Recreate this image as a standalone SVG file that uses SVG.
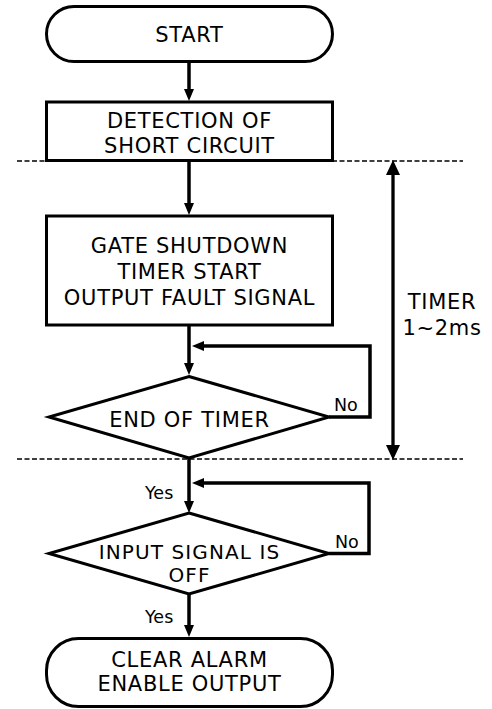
<svg xmlns="http://www.w3.org/2000/svg" width="492" height="709" viewBox="0 0 492 709">
<style>
.shape{fill:#fff;stroke:#000;stroke-width:3;}
.t{font-family:"DejaVu Sans",Verdana,sans-serif;font-size:21px;letter-spacing:0.7px;fill:#000;text-anchor:middle;}
.d{font-size:20px;letter-spacing:1.1px;}
.s{font-family:"DejaVu Sans",Verdana,sans-serif;font-size:17.5px;fill:#000;}
.ln{fill:none;stroke:#000;stroke-width:3.5;}
.tm{fill:none;stroke:#000;stroke-width:3.3;}
.dash{fill:none;stroke:#000;stroke-width:1.5;stroke-dasharray:5 2.5;}
</style>
<defs>
<marker id="ah" markerUnits="userSpaceOnUse" viewBox="0 0 12 10" refX="6" refY="5" markerWidth="12" markerHeight="10" orient="auto">
<path d="M0,0 L12,5 L0,10 z" fill="#000"/>
</marker>
<marker id="ahl" markerUnits="userSpaceOnUse" viewBox="0 0 15 14" refX="7" refY="7" markerWidth="15" markerHeight="14" orient="auto-start-reverse">
<path d="M0,0 L15,7 L0,14 z" fill="#000"/>
</marker>
</defs>
<g id="guides">
<line class="dash" x1="17" y1="161" x2="463" y2="161"/>
<line class="dash" x1="17" y1="459" x2="463" y2="459"/>
</g>
<g id="connectors">
<line class="ln" x1="189" y1="62" x2="189" y2="95" marker-end="url(#ah)"/>
<line class="ln" x1="189" y1="161" x2="189" y2="209" marker-end="url(#ah)"/>
<line class="ln" x1="189" y1="325" x2="189" y2="369" marker-end="url(#ah)"/>
<polyline class="ln" points="329,417 370,417 370,346 198,346" marker-end="url(#ah)"/>
<line class="ln" x1="189" y1="458" x2="189" y2="507" marker-end="url(#ah)"/>
<polyline class="ln" points="329,553.5 369,553.5 369,483 198,483" marker-end="url(#ah)"/>
<line class="ln" x1="189" y1="594" x2="189" y2="631" marker-end="url(#ah)"/>
<line class="tm" x1="393" y1="168" x2="393" y2="452" marker-start="url(#ahl)" marker-end="url(#ahl)"/>
<text class="s" x="334" y="411">No</text>
<text class="s" x="145" y="499">Yes</text>
<text class="s" x="335" y="548">No</text>
<text class="s" x="145" y="623">Yes</text>
</g>
<g id="start">
<rect class="shape" x="46.5" y="6.5" width="286" height="55" rx="27.5"/>
<text class="t" x="189.5" y="41.5">START</text>
</g>
<g id="detect">
<rect class="shape" x="46.5" y="102" width="286" height="58.5"/>
<text class="t" x="189.5" y="128">DETECTION OF</text>
<text class="t" x="189.5" y="153">SHORT CIRCUIT</text>
</g>
<g id="gate">
<rect class="shape" x="46.5" y="216" width="286" height="109"/>
<text class="t" x="189.5" y="253">GATE SHUTDOWN</text>
<text class="t" x="189.5" y="279">TIMER START</text>
<text class="t" x="189.5" y="305">OUTPUT FAULT SIGNAL</text>
</g>
<g id="endtimer">
<polygon class="shape" points="189,376.5 329,417 189,458 49,417"/>
<text class="t" x="189.5" y="426.5">END OF TIMER</text>
</g>
<g id="timer">
<text class="t" x="442" y="309">TIMER</text>
<text class="t" x="442" y="335">1~2ms</text>
</g>
<g id="inputoff">
<polygon class="shape" points="189,513 329,553.5 189,594 49,553.5"/>
<text class="t d" x="189.5" y="558.5">INPUT SIGNAL IS</text>
<text class="t d" x="189.5" y="582">OFF</text>
</g>
<g id="clear">
<rect class="shape" x="46.5" y="638.5" width="286" height="68" rx="32"/>
<text class="t" x="189.5" y="667">CLEAR ALARM</text>
<text class="t" x="189.5" y="691">ENABLE OUTPUT</text>
</g>
</svg>
